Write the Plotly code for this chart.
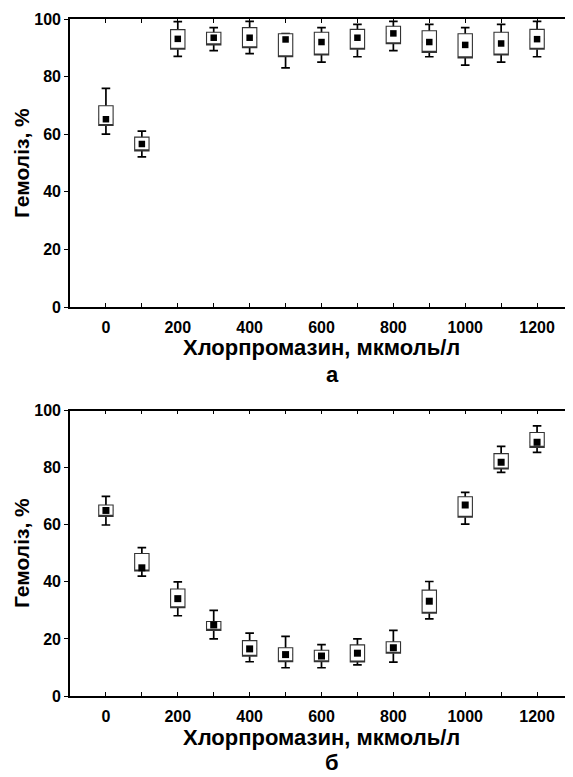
import plotly.graph_objects as go

# Concentrations (categories), µmol/L
conc = [0, 100, 200, 300, 400, 500, 600, 700, 800, 900, 1000, 1100, 1200]
tick_text = ["0", "", "200", "", "400", "", "600", "", "800", "", "1000", "", "1200"]
y_ticks = [0, 20, 40, 60, 80, 100]

# Panel а
mean_a = [65.2, 56.6, 93.1, 93.5, 93.5, 92.9, 92.0, 93.5, 95.0, 92.0, 91.0, 91.5, 93.0]
q1_a = [63.0, 54.2, 89.5, 91.0, 90.0, 86.9, 87.5, 89.5, 91.4, 88.4, 86.5, 87.5, 89.5]
q3_a = [69.9, 59.0, 96.3, 95.4, 97.0, 94.9, 95.4, 96.4, 97.5, 95.9, 94.9, 95.4, 96.4]
lo_a = [60.0, 52.1, 87.0, 89.0, 88.0, 83.0, 85.0, 86.9, 89.0, 86.9, 84.0, 85.0, 86.9]
hi_a = [75.9, 61.1, 99.1, 97.0, 99.2, 94.9, 97.0, 98.1, 99.2, 98.1, 97.0, 98.1, 99.2]

# Panel б
mean_b = [65.0, 44.9, 34.1, 24.9, 16.5, 14.5, 14.0, 15.0, 16.9, 33.2, 66.9, 81.9, 88.9]
q1_b = [62.9, 43.8, 30.9, 23.0, 13.9, 12.0, 12.0, 11.9, 15.0, 29.0, 62.6, 79.5, 87.1]
q3_b = [66.9, 49.9, 37.5, 26.1, 19.4, 16.9, 16.0, 17.9, 19.0, 37.1, 69.8, 84.9, 92.3]
lo_b = [59.9, 42.0, 28.1, 20.0, 12.0, 9.9, 9.9, 10.9, 11.9, 27.0, 60.2, 78.3, 85.3]
hi_b = [69.9, 52.0, 40.0, 30.0, 22.0, 20.9, 18.0, 20.0, 23.0, 40.1, 71.3, 87.4, 94.6]

x_title = "Хлорпромазин, мкмоль/л"
y_title = "Гемоліз, %"
panel_labels = ["а", "б"]

FONT = "Liberation Sans, Arial, sans-serif"

fig = go.Figure()


def add_panel(xa, ya, mean, q1, q3, lo, hi, msize):
    # whiskers (collapsed box at mean, whiskers to extremes)
    fig.add_trace(go.Box(
        x=conc, q1=mean, median=mean, q3=mean, lowerfence=lo, upperfence=hi,
        width=40, whiskerwidth=0.6, boxpoints=False,
        line=dict(color="black", width=1.7), fillcolor="rgba(0,0,0,0)",
        xaxis=xa, yaxis=ya, showlegend=False, hoverinfo="skip"))
    # boxes
    fig.add_trace(go.Box(
        x=conc, q1=q1, median=q1, q3=q3, lowerfence=q1, upperfence=q3,
        width=40, whiskerwidth=0, boxpoints=False,
        line=dict(color="#333333", width=1.1), fillcolor="white",
        xaxis=xa, yaxis=ya, showlegend=False, hoverinfo="skip"))
    # means
    fig.add_trace(go.Scatter(
        x=conc, y=mean, mode="markers",
        marker=dict(symbol="square", size=msize, color="black", line=dict(width=0)),
        xaxis=xa, yaxis=ya, showlegend=False, hoverinfo="skip"))


add_panel("x", "y", mean_a, q1_a, q3_a, lo_a, hi_a, 6.5)
add_panel("x2", "y2", mean_b, q1_b, q3_b, lo_b, hi_b, 7)

# page body has an 8px margin -> shrink figure and shift margins accordingly
OFF = 8
W, H = 573 - OFF, 777 - OFF
l, t, b = 70 - OFF, 19 - OFF, 81
ph = H - t - b
pw = W - l


def py(pix):
    return (777 - b - pix) / ph


def px(pix):
    return (pix - 70) / pw


tickfont = dict(family=FONT, size=16, color="black", weight="bold")

xcommon = dict(range=[-100, 1300], tickvals=conc, ticktext=tick_text,
               ticks="inside", ticklen=4, tickwidth=1.3, tickcolor="black",
               showline=True, linewidth=1.6, linecolor="black", mirror="ticks",
               showgrid=False, zeroline=False, tickfont=tickfont,
               ticklabelstandoff=5, automargin=False)
ycommon = dict(range=[0, 100], tickvals=y_ticks, ticks="outside", ticklen=4,
               tickwidth=1.3, tickcolor="black", showline=True, linewidth=1.6,
               linecolor="black", mirror="ticks", showgrid=False,
               zeroline=False, tickfont=tickfont, automargin=False)

fig.update_layout(
    width=W, height=H,
    margin=dict(l=l, r=0, t=t, b=b, autoexpand=False),
    paper_bgcolor="white", plot_bgcolor="white",
    boxmode="overlay",
    xaxis=dict(domain=[0, 1], anchor="y", **xcommon),
    yaxis=dict(domain=[py(307), 1], anchor="x", **ycommon),
    xaxis2=dict(domain=[0, 1], anchor="y2", **xcommon),
    yaxis2=dict(domain=[0, py(410.5)], anchor="x2", **ycommon),
)

title_font = dict(family=FONT, size=22, color="black", weight="bold")
ytitle_font = dict(family=FONT, size=21, color="black", weight="bold")
ann = []
for i, (xt_y, lab_y, yt_y) in enumerate([(347, 374, 163), (738, 762, 553)]):
    ann.append(dict(text=x_title, x=0.5, y=py(xt_y), xref="paper", yref="paper",
                    showarrow=False, font=title_font, xanchor="center", yanchor="middle"))
    ann.append(dict(text=panel_labels[i], x=px(332), y=py(lab_y), xref="paper", yref="paper",
                    showarrow=False, font=title_font, xanchor="center", yanchor="middle"))
    ann.append(dict(text=y_title, x=px(21), y=py(yt_y), xref="paper", yref="paper",
                    showarrow=False, font=ytitle_font, textangle=-90,
                    xanchor="center", yanchor="middle"))
fig.update_layout(annotations=ann)

fig.write_html("out.html")
